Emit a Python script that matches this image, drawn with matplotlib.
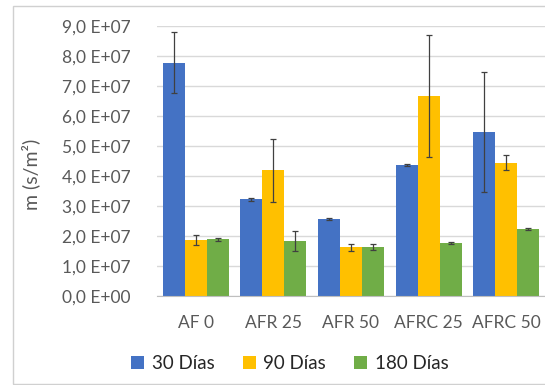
import matplotlib
matplotlib.use("Agg")
import matplotlib.pyplot as plt
import numpy as np
from matplotlib.patches import Rectangle
from matplotlib.ticker import FuncFormatter

plt.rcParams["font.family"] = ["Lato", "DejaVu Sans"]

categories = ["AF 0", "AFR 25", "AFR 50", "AFRC 25", "AFRC 50"]
series = ["30 Días", "90 Días", "180 Días"]
colors = ["#4472C4", "#FFC000", "#70AD47"]

m_30 = [7.78e7, 3.22e7, 2.57e7, 4.36e7, 5.47e7]
m_90 = [1.86e7, 4.20e7, 1.62e7, 6.67e7, 4.45e7]
m_180 = [1.90e7, 1.84e7, 1.63e7, 1.77e7, 2.23e7]

err_30 = [1.02e7, 0.05e7, 0.03e7, 0.03e7, 2.0e7]
err_90 = [0.17e7, 1.05e7, 0.11e7, 2.03e7, 0.24e7]
err_180 = [0.05e7, 0.33e7, 0.10e7, 0.03e7, 0.03e7]

values = [m_30, m_90, m_180]
errors = [err_30, err_90, err_180]


def sci_comma(v, pos):
    # formato tipo Excel: "7,0 E+07"
    if v == 0:
        return "0,0 E+00"
    exp = int(np.floor(np.log10(abs(v))))
    mant = v / 10 ** exp
    return f"{mant:.1f}".replace(".", ",") + f" E+{exp:02d}"


fig = plt.figure(figsize=(5.45, 3.85), dpi=100)
ax = fig.add_axes([157 / 545, 89 / 385, 388 / 545, 270 / 385])

x = np.arange(len(categories))
w = 0.284
for i, (vals, errs, col, lab) in enumerate(zip(values, errors, colors, series)):
    ax.bar(x + (i - 1) * w, vals, w, color=col, label=lab, zorder=2,
           yerr=errs, error_kw=dict(ecolor="#404040", elinewidth=0.9,
                                    capsize=2.5, capthick=0.9, zorder=3))

ax.set_xlim(-0.5, len(categories) - 0.5)
ax.set_ylim(0, 9e7)
ax.set_yticks(np.arange(0, 9.1e7, 1e7))
ax.yaxis.set_major_formatter(FuncFormatter(sci_comma))
ax.set_xticks(x)
ax.set_xticklabels(categories)
ax.tick_params(length=0, labelsize=12.5, labelcolor="#595959")
ax.tick_params(axis="y", pad=19)
ax.tick_params(axis="x", pad=14)
ax.grid(axis="y", color="#D9D9D9", linewidth=1, zorder=0)
for s in ["top", "right", "left"]:
    ax.spines[s].set_visible(False)
ax.spines["bottom"].set_color("#BFBFBF")

ax.set_ylabel("m (s/m²)", fontsize=14, color="#595959")
ax.yaxis.set_label_coords(-0.30, 0.45)

handles, labels = ax.get_legend_handles_labels()
fig.legend(handles, labels, loc="center", bbox_to_anchor=(0.532, 0.055),
           ncol=3, frameon=False, fontsize=13.5, handlelength=0.7,
           handleheight=0.7, handletextpad=0.4, columnspacing=1.5,
           labelcolor="#262626")

fig.patches.append(Rectangle((13 / 545, 1 / 385), 0.99, 378 / 385,
                             transform=fig.transFigure, fill=False,
                             edgecolor="#D0D0D0", linewidth=1))

fig.savefig("out.png", dpi=100, facecolor="white")
